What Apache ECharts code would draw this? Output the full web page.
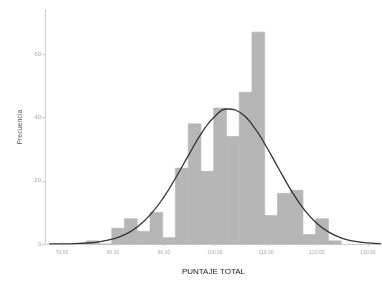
<!DOCTYPE html>
<html><head><meta charset="utf-8">
<script src="https://cdn.jsdelivr.net/npm/echarts@6/dist/echarts.min.js"></script>
<style>html,body{margin:0;padding:0;background:#fff}#c{width:382px;height:281px}</style>
</head><body><div id="c"></div>
<script>
// Histogram bins: left edge, right edge (PUNTAJE TOTAL)
const binStart = [74.75,77.25,79.75,82.25,84.75,87.25,89.75,92.25,94.75,97.25,99.75,102.25,104.75,107.25,109.75,112.25,114.75,117.25,119.75,122.25];
const binEnd   = [77.25,79.75,82.25,84.75,87.25,89.75,92.25,94.75,97.25,99.75,102.25,104.75,107.25,109.75,112.25,114.75,117.25,119.75,122.25,124.75];
const counts   = [1,0,5,8,4,10,2,24,38,23,43,34,48,67,9,16,17,3,8,1];
// Normal curve
const curveX = [67.5,70,72.5,75,77.5,80,82.5,85,87.5,90,92.5,95,97.5,100,102.5,105,107.5,110,112.5,115,117.5,120,122.5,125,127.5,130,132.5];
const curveY = [0.02,0.05,0.13,0.32,0.75,1.6,3.1,5.7,9.6,14.9,21.5,28.6,35.4,40.4,42.7,41.5,37.3,31.0,23.8,16.8,10.9,6.5,3.6,1.8,0.85,0.37,0.15];
const xTicks = [70,80,90,100,110,120,130];
const yTicks = [0,20,40,60];
const xTitle = 'PUNTAJE TOTAL';
const yTitle = 'Frecuencia';

const barData = binStart.map((s,i)=>[s, binEnd[i], counts[i]]);
const lineData = curveX.map((x,i)=>[x, curveY[i]]);

const chart = echarts.init(document.getElementById('c'), null, {renderer:'canvas'});
chart.setOption({
  animation:false,
  backgroundColor:'#fff',
  grid:{left:45, right:0, top:10, bottom:32.5},
  xAxis:{
    type:'value', min:66.67, max:132.75,
    name:xTitle, nameLocation:'middle', nameGap:24,
    nameTextStyle:{fontFamily:'Liberation Sans', fontSize:8, color:'#222'},
    axisLine:{show:true, lineStyle:{color:'#cfcfcf', width:1}},
    axisTick:{show:true, customValues:xTicks, length:2, lineStyle:{color:'#cfcfcf'}},
    axisLabel:{customValues:xTicks, formatter:v=>v.toFixed(2), fontSize:5, color:'#aaa', margin:6, fontFamily:'Liberation Sans'},
    splitLine:{show:false}
  },
  yAxis:{
    type:'value', min:0, max:74,
    name:yTitle, nameLocation:'middle', nameGap:19,
    nameTextStyle:{fontFamily:'Liberation Sans', fontSize:7, color:'#555'},
    axisLine:{show:true, lineStyle:{color:'#cfcfcf', width:1}},
    axisTick:{show:true, customValues:yTicks, length:3, lineStyle:{color:'#cfcfcf'}},
    axisLabel:{customValues:yTicks, fontSize:6, color:'#aaa', margin:4, fontFamily:'Liberation Sans'},
    splitLine:{show:false}
  },
  series:[
    {
      type:'custom',
      data:barData,
      encode:{x:[0,1], y:2},
      renderItem:function(params, api){
        const p0 = api.coord([api.value(0), api.value(2)]);
        const p1 = api.coord([api.value(1), 0]);
        return {type:'rect', shape:{x:p0[0], y:p0[1], width:p1[0]-p0[0], height:p1[1]-p0[1]},
          style:{fill:'#b6b6b6', stroke:'#b6b6b6', lineWidth:0.6}};
      },
      z:2
    },
    {
      type:'line', data:lineData, smooth:true, symbol:'none',
      lineStyle:{color:'#333', width:1.3}, z:3
    }
  ]
});
</script></body></html>
